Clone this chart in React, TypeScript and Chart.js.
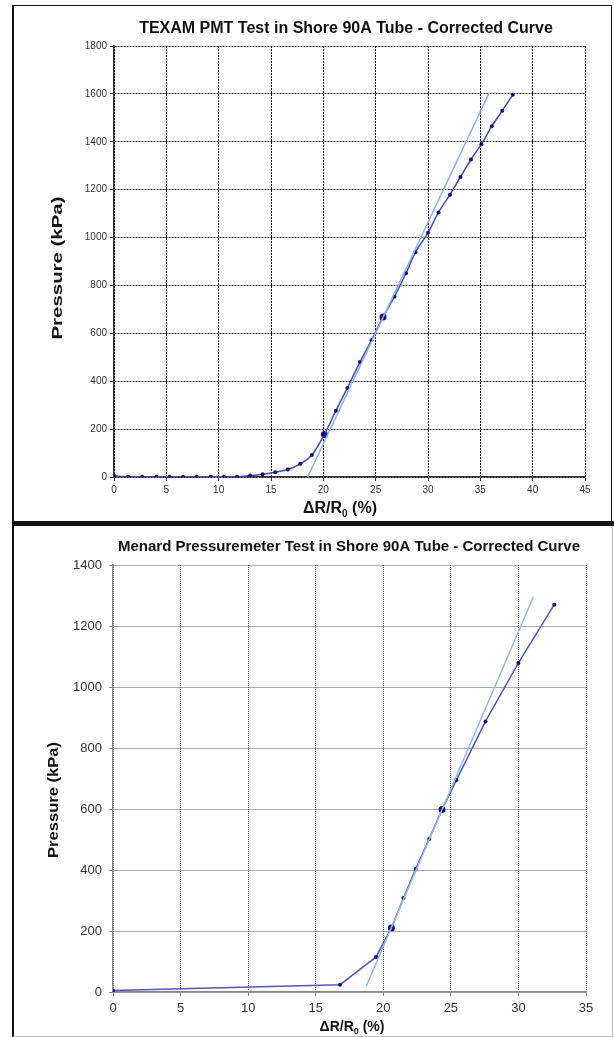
import React, { useEffect, useRef } from "react";
import { Chart, registerables } from "chart.js";

Chart.register(...registerables);

// ---------- TEXAM chart data ----------
const texamStrain = [0, 1.34, 2.7, 4.07, 5.3, 6.6, 7.9, 9.25, 10.5, 11.76, 13.0, 14.2, 15.4, 16.6, 17.8, 18.9, 20.1, 21.2, 22.3, 23.5, 24.6, 25.7, 26.8, 27.9, 28.8, 30.0, 31.0, 32.1, 33.1, 34.1, 35.1, 36.1, 37.1, 38.1];
const texamPressure = [5, 1, 1, 1, 1, 1, 1, 1, 1, 1, 6, 11, 20, 31, 55, 92, 177, 277, 372, 480, 571, 668, 754, 851, 939, 1020, 1105, 1179, 1253, 1326, 1390, 1465, 1530, 1596];
const texamKeyStrain = [20.1, 25.7];
const texamKeyPressure = [177, 668];
const texamTangentStrain = [18.5, 35.8];
const texamTangentPressure = [0, 1600];
const texamXTicks = [0, 5, 10, 15, 20, 25, 30, 35, 40, 45];
const texamYTicks = [0, 200, 400, 600, 800, 1000, 1200, 1400, 1600, 1800];

// ---------- Menard chart data ----------
const menardStrain = [0, 16.8, 19.47, 20.6, 21.5, 22.4, 23.4, 24.35, 25.4, 27.56, 30.0, 32.65];
const menardPressure = [5, 24, 115, 210, 308, 404, 502, 598, 694, 887, 1079, 1270];
const menardKeyStrain = [20.6, 24.35];
const menardKeyPressure = [210, 598];
const menardTangentStrain = [18.75, 31.1];
const menardTangentPressure = [20, 1295];
const menardXTicks = [0, 5, 10, 15, 20, 25, 30, 35];
const menardYTicks = [0, 200, 400, 600, 800, 1000, 1200, 1400];

const texamTitle = "TEXAM PMT Test in Shore 90A Tube - Corrected Curve";
const menardTitle = "Menard Pressuremeter Test in Shore 90A Tube - Corrected Curve";
const yAxisTitle = "Pressure (kPa)";
const xAxisMain = "ΔR/R";
const xAxisSub = "0";
const xAxisTail = " (%)";

const FONT = '"Liberation Sans", Arial, Helvetica, sans-serif';

type Part = { t: string; sub?: boolean };
type Label = { parts: Part[]; x: number; y: number; size: number; rotate?: boolean; length?: number; color?: string };

function makeTextPlugin(items: Label[]) {
  return {
    id: "freeText",
    afterDraw(chart: any) {
      const ctx: CanvasRenderingContext2D = chart.ctx;
      for (const l of items) {
        ctx.save();
        ctx.fillStyle = l.color || "#111";
        ctx.textBaseline = "middle";
        ctx.textAlign = "left";
        const fontFor = (p: Part) => `bold ${p.sub ? Math.round(l.size * 0.65) : l.size}px ${FONT}`;
        let total = 0;
        const widths = l.parts.map((p) => {
          ctx.font = fontFor(p);
          const w = ctx.measureText(p.t).width;
          total += w;
          return w;
        });
        ctx.translate(l.x, l.y);
        if (l.rotate) ctx.rotate(-Math.PI / 2);
        if (l.length) ctx.scale(l.length / total, 1);
        let x = -total / 2;
        l.parts.forEach((p, i) => {
          ctx.font = fontFor(p);
          ctx.fillText(p.t, x, p.sub ? l.size * 0.3 : 0);
          x += widths[i];
        });
        ctx.restore();
      }
    },
  };
}

const pts = (xs: number[], ys: number[]) => xs.map((x, i) => ({ x, y: ys[i] }));
const plain = (v: any) => String(v);

function TexamChart() {
  const ref = useRef<HTMLCanvasElement>(null);
  useEffect(() => {
    const labels: Label[] = [
      { parts: [{ t: texamTitle }], x: 346, y: 29, size: 16 },
      { parts: [{ t: xAxisMain }, { t: xAxisSub, sub: true }, { t: xAxisTail }], x: 340, y: 509, size: 16 },
      { parts: [{ t: yAxisTitle }], x: 58, y: 268, size: 15, rotate: true, length: 143 },
    ];
    const chart = new Chart(ref.current!, {
      type: "line",
      data: {
        datasets: [
          {
            data: pts(texamTangentStrain, texamTangentPressure),
            borderColor: "#86b6e6",
            borderWidth: 1.5,
            pointRadius: 0,
            tension: 0,
          },
          {
            data: pts(texamStrain, texamPressure),
            borderColor: "#4a4ab2",
            borderWidth: 1.5,
            pointRadius: 2,
            pointBackgroundColor: "#10107a",
            pointBorderColor: "#10107a",
            pointBorderWidth: 0,
            cubicInterpolationMode: "monotone",
          },
          {
            data: pts(texamKeyStrain, texamKeyPressure),
            showLine: false,
            pointRadius: 3.5,
            pointBackgroundColor: "#10107a",
            pointBorderColor: "#10107a",
            pointBorderWidth: 0,
          },
        ],
      },
      plugins: [makeTextPlugin(labels)],
      options: {
        animation: false,
        responsive: false,
        layout: { padding: { left: 0, right: 29, top: 46, bottom: 0 } },
        plugins: { legend: { display: false }, tooltip: { enabled: false }, title: { display: false } },
        scales: {
          x: {
            type: "linear",
            min: texamXTicks[0],
            max: texamXTicks[texamXTicks.length - 1],
            afterFit: (s: any) => { s.height = 45; },
            ticks: { stepSize: texamXTicks[1] - texamXTicks[0], autoSkip: false, maxRotation: 0, padding: 3, color: "#333", font: { family: FONT, size: 10 }, callback: plain },
            grid: { color: "#111", lineWidth: 1, tickLength: 4, tickColor: "#333", drawTicks: true },
            border: { display: true, color: "#333", width: 1.5, dash: [2, 1] },
          },
          y: {
            type: "linear",
            min: texamYTicks[0],
            max: texamYTicks[texamYTicks.length - 1],
            afterFit: (s: any) => { s.width = 114; },
            ticks: { stepSize: texamYTicks[1] - texamYTicks[0], autoSkip: false, padding: 3, color: "#333", font: { family: FONT, size: 10 }, callback: plain },
            grid: { color: "#111", lineWidth: 1, tickLength: 4, tickColor: "#333", drawTicks: true },
            border: { display: true, color: "#333", width: 1.5, dash: [2, 1] },
          },
        },
      } as any,
    });
    return () => chart.destroy();
  }, []);
  return <canvas ref={ref} width={614} height={522} style={{ position: "absolute", left: 0, top: 0, width: 614, height: 522 }} />;
}

function MenardChart() {
  const ref = useRef<HTMLCanvasElement>(null);
  useEffect(() => {
    const labels: Label[] = [
      { parts: [{ t: menardTitle }], x: 349, y: 25, size: 15 },
      { parts: [{ t: xAxisMain }, { t: xAxisSub, sub: true }, { t: xAxisTail }], x: 352, y: 505, size: 14 },
      { parts: [{ t: yAxisTitle }], x: 54, y: 278, size: 14, rotate: true, length: 116 },
    ];
    const chart = new Chart(ref.current!, {
      type: "line",
      data: {
        datasets: [
          {
            data: pts(menardTangentStrain, menardTangentPressure),
            borderColor: "#8cbde8",
            borderWidth: 1.5,
            pointRadius: 0,
            tension: 0,
          },
          {
            data: pts(menardStrain, menardPressure),
            borderColor: "#5656b8",
            borderWidth: 1.5,
            pointRadius: 2,
            pointBackgroundColor: "#10107a",
            pointBorderColor: "#10107a",
            pointBorderWidth: 0,
            tension: 0,
          },
          {
            data: pts(menardKeyStrain, menardKeyPressure),
            showLine: false,
            pointRadius: 3.5,
            pointBackgroundColor: "#10107a",
            pointBorderColor: "#10107a",
            pointBorderWidth: 0,
          },
        ],
      },
      plugins: [makeTextPlugin(labels)],
      options: {
        animation: false,
        responsive: false,
        layout: { padding: { left: 0, right: 28, top: 43, bottom: 0 } },
        plugins: { legend: { display: false }, tooltip: { enabled: false }, title: { display: false } },
        scales: {
          x: {
            type: "linear",
            min: menardXTicks[0],
            max: menardXTicks[menardXTicks.length - 1],
            afterFit: (s: any) => { s.height = 45; },
            ticks: { stepSize: menardXTicks[1] - menardXTicks[0], autoSkip: false, maxRotation: 0, padding: 5, color: "#333", font: { family: FONT, size: 13 }, callback: plain },
            grid: { color: "#555", lineWidth: 1, tickLength: 4, tickColor: "#888", drawTicks: true },
            border: { display: true, color: "#888", width: 1.5, dash: [1, 1] },
          },
          y: {
            type: "linear",
            min: menardYTicks[0],
            max: menardYTicks[menardYTicks.length - 1],
            afterFit: (s: any) => { s.width = 113; },
            ticks: { stepSize: menardYTicks[1] - menardYTicks[0], autoSkip: false, padding: 7, color: "#333", font: { family: FONT, size: 13 }, callback: plain },
            grid: { color: "#555", lineWidth: 1, tickLength: 4, tickColor: "#888", drawTicks: true },
            border: { display: true, color: "#888", width: 1.5, dash: [1, 1] },
          },
        },
      } as any,
    });
    return () => chart.destroy();
  }, []);
  return <canvas ref={ref} width={614} height={515} style={{ position: "absolute", left: 0, top: 522, width: 614, height: 515 }} />;
}

export default function App() {
  return (
    <div style={{ position: "absolute", left: 0, top: 0, width: 614, height: 1037, background: "#fff", overflow: "hidden" }}>
      <div style={{ position: "absolute", left: 12, top: 5, width: 600, height: 516, borderLeft: "2px solid #111", borderTop: "1px solid #111", borderRight: "1px solid #111", boxSizing: "border-box" }} />
      <div style={{ position: "absolute", left: 12, top: 521, width: 602, height: 5, background: "#111" }} />
      <div style={{ position: "absolute", left: 12, top: 526, width: 601, height: 511, borderLeft: "2px solid #111", borderRight: "1px solid #bbb", borderBottom: "1px solid #bbb", boxSizing: "border-box" }} />
      <TexamChart />
      <MenardChart />
    </div>
  );
}
